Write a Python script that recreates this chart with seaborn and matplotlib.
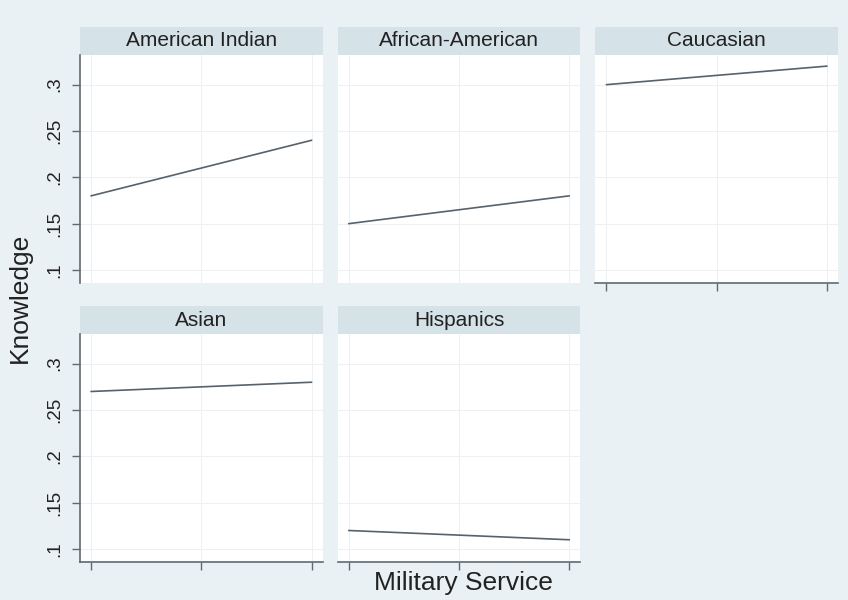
import matplotlib
matplotlib.use('Agg')
import matplotlib.pyplot as plt
from matplotlib.patches import Rectangle
import pandas as pd
import seaborn as sns

# values
groups = ["American Indian", "African-American", "Caucasian", "Asian", "Hispanics"]
service_levels = [0, 1]
knowledge_no_service = [0.18, 0.15, 0.30, 0.27, 0.12]
knowledge_service = [0.24, 0.18, 0.32, 0.28, 0.11]
y_ticks = [0.1, 0.15, 0.2, 0.25, 0.3]
y_tick_labels = ['.1', '.15', '.2', '.25', '.3']
x_ticks = [0, 0.5, 1]

rows = []
for name, lo, hi in zip(groups, knowledge_no_service, knowledge_service):
    for lvl, val in zip(service_levels, [lo, hi]):
        rows.append({'group': name, 'service': lvl, 'knowledge': val})
df = pd.DataFrame(rows)

BG = '#eaf1f4'
STRIP = '#d5e2e8'
LINE = '#56626c'
GRID = '#edf1f3'
AXIS = '#5f6a72'

sns.set_style('white')
plt.rcParams['font.family'] = ['Liberation Sans', 'DejaVu Sans']

g = sns.relplot(
    data=df, x='service', y='knowledge', col='group', col_wrap=3,
    col_order=groups, kind='line', color=LINE, linewidth=1.2,
    height=2.3, aspect=1.05, facet_kws={'sharex': True, 'sharey': True}
)
fig = g.figure
fig.set_size_inches(8.48, 6)
fig.set_facecolor(BG)
g.set_titles('')
g.set_axis_labels('', '')
fig.subplots_adjust(left=80/848, right=838/848, top=1-55/600, bottom=1-562/600,
                    wspace=0.062, hspace=0.224)

for i, (ax, name) in enumerate(zip(g.axes.flat, groups)):
    left = i % 3 == 0
    bottom = i >= 2
    ax.set_facecolor('white')
    ax.set_xlim(-0.05, 1.05)
    ax.set_ylim(0.086, 0.332)
    ax.set_xticks(x_ticks)
    ax.set_yticks(y_ticks, labels=y_tick_labels)
    ax.grid(True, color=GRID, linewidth=0.8)
    ax.set_axisbelow(True)
    for s in ax.spines.values():
        s.set_visible(False)
    if left:
        ax.spines['left'].set_visible(True)
        ax.spines['left'].set_color(AXIS)
        ax.spines['left'].set_linewidth(1.2)
    if bottom:
        ax.spines['bottom'].set_visible(True)
        ax.spines['bottom'].set_color(AXIS)
        ax.spines['bottom'].set_linewidth(1.2)
    ax.tick_params(axis='y', left=left, labelleft=left, length=6, width=1,
                   color=AXIS, labelsize=13.5, pad=6, labelcolor='#222222')
    ax.tick_params(axis='x', bottom=bottom, labelbottom=False, length=6,
                   width=1, color=AXIS)
    if left:
        plt.setp(ax.get_yticklabels(), rotation=90, va='center')

    # header strip
    ax.add_patch(Rectangle((0, 1), 1, 0.123, transform=ax.transAxes,
                           facecolor=STRIP, edgecolor='none', clip_on=False))
    ax.text(0.5, 1.0615, name, transform=ax.transAxes, ha='center',
            va='center', fontsize=15, color='#222222')

fig.text(463/848, 1-583/600, 'Military Service', ha='center', va='center',
         fontsize=19, color='#222222')
fig.text(20/848, 1-298/600, 'Knowledge', ha='center', va='center',
         rotation=90, fontsize=19, color='#222222')

fig.savefig('out.png', dpi=100, facecolor=BG)
plt.close(fig)
